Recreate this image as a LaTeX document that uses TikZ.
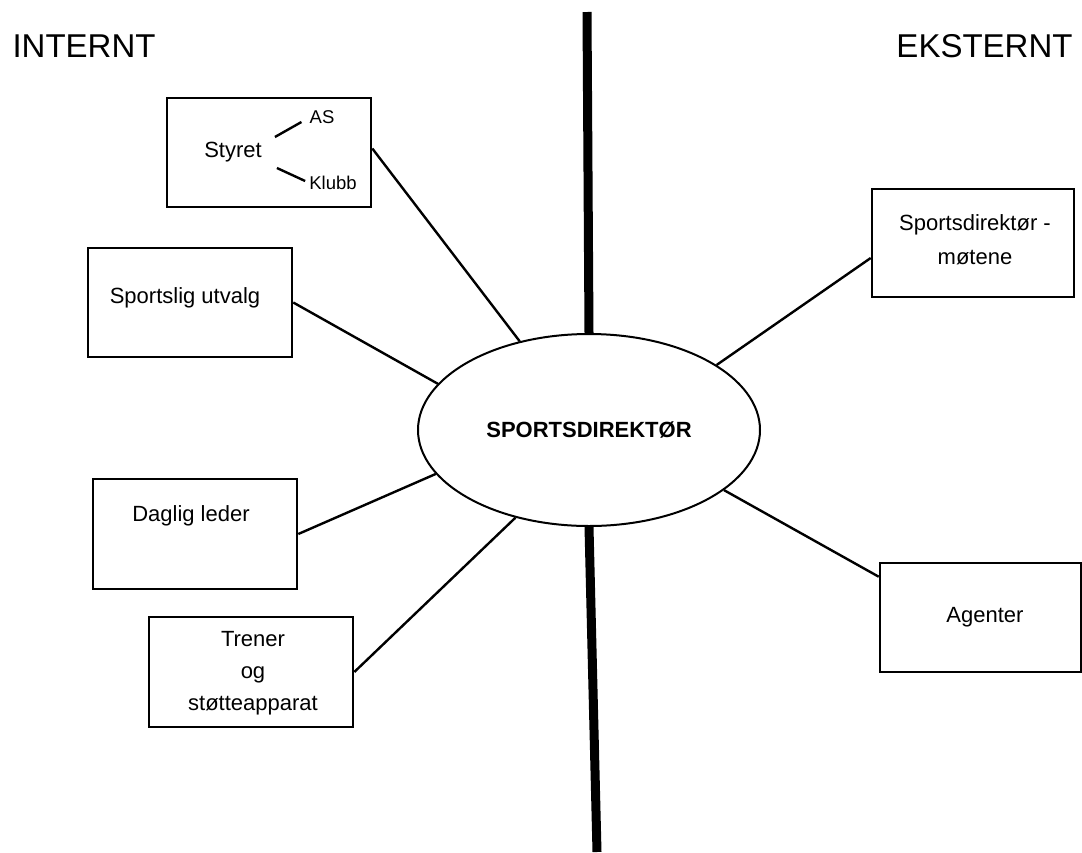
\documentclass[tikz,border=0pt]{standalone}
\usepackage{fontspec}
\setmainfont{Liberation Sans}
\usepackage{tikz}
\usetikzlibrary{shapes.geometric}

\tikzset{
  boks/.style={draw,line width=2.6pt,minimum width=204pt,minimum height=109pt,inner sep=0pt},
  tekst/.style={inner sep=0pt,align=center,font=\fontsize{22}{26}\selectfont},
  liten/.style={inner sep=0pt,font=\fontsize{18.5}{22}\selectfont},
  overskrift/.style={inner sep=0pt,font=\fontsize{33}{38}\selectfont},
  linje/.style={line width=2.4pt},
  skille/.style={line width=9pt},
}

\begin{document}
\begin{tikzpicture}[x=1pt,y=-1pt]
  \useasboundingbox (0,0) rectangle (1082,852);
  \node[overskrift] (intern) at (84,46.5) {INTERNT};
  \node[overskrift] (ekstern) at (984.5,46.5) {EKSTERNT};

  \coordinate (topp) at (587,12);
  \coordinate (bunn) at (597,852);
  \node[draw,ellipse,line width=2pt,minimum width=342pt,minimum height=192pt,inner sep=0pt,
        font=\bfseries\fontsize{22}{26}\selectfont] (sd) at (589,430) {SPORTSDIREKTØR};
  \draw[skille] (topp) -- (sd.north);
  \draw[skille] (sd.south) -- (bunn);

  \node[boks] (styret) at (269,152.5) {};
  \node[tekst] (stytxt) at (233,152) {Styret};
  \node[liten] (as) at (322,117) {AS};
  \node[liten] (klubb) at (333,183) {Klubb};
  \draw[linje] ([shift={(13pt,15pt)}]stytxt.east) -- ([shift={(-8pt,-5pt)}]as.west);
  \draw[linje] ([shift={(15pt,-16pt)}]stytxt.east) -- ([shift={(-4pt,2pt)}]klubb.west);

  \node[boks] (utvalg) at (190,302.5) {};
  \node[tekst] at (185,298) {Sportslig utvalg};
  \node[boks,minimum height=110pt] (leder) at (195,534) {};
  \node[tekst] at (191,516) {Daglig leder};
  \node[boks,minimum height=110pt] (trener) at (251,672) {};
  \node[tekst,font=\fontsize{22}{32}\selectfont] at (253,673) {Trener\\og\\støtteapparat};

  \node[boks,minimum width=202pt,minimum height=108pt] (moter) at (973,243) {};
  \node[tekst,font=\fontsize{22}{34}\selectfont] at (975,240) {Sportsdirektør -\\møtene};
  \node[boks,minimum width=201pt] (agent) at (980.5,617.5) {};
  \node[tekst] at (985,617) {Agenter};

  \draw[linje] ([yshift=4pt]styret.east) -- (sd.128.6);
  \draw[linje] (utvalg.east) -- (sd.163.5);
  \draw[linje] (leder.east) -- (sd.196.9);
  \draw[linje] (trener.east) -- (sd.230.9);
  \draw[linje] ([yshift=-15pt]moter.west) -- (sd.27.8);
  \draw[linje] ([yshift=-15pt]agent.north west) -- (sd.336.8);
\end{tikzpicture}
\end{document}
